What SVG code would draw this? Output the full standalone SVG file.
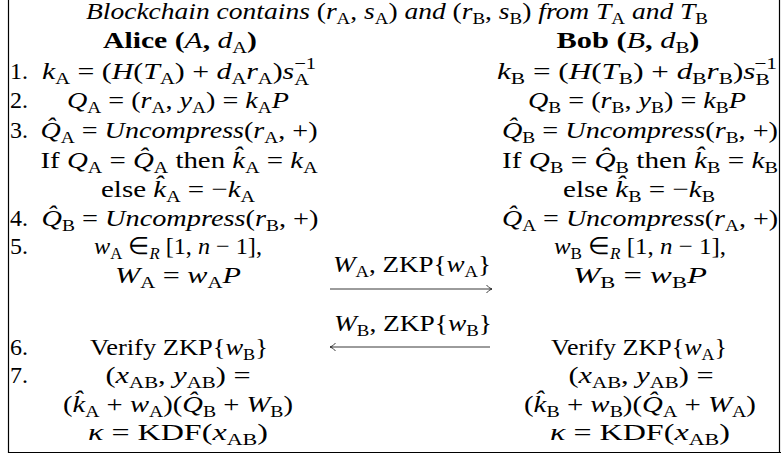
<svg xmlns="http://www.w3.org/2000/svg" width="781" height="458" viewBox="0 0 781 458">
<style>
text{font-family:"Liberation Serif","Times New Roman",serif;font-size:24px;fill:#000}
.m{text-anchor:middle}
.i{font-style:italic}
.b{font-weight:bold}
.n{font-weight:normal}
.s{font-size:16.5px;font-style:normal}
.si{font-size:16.5px;font-style:italic}
.frame{fill:none;stroke:#000;stroke-width:1.2}
.arr{fill:none;stroke:#222;stroke-width:0.9}
</style>
<rect width="781" height="458" fill="#fff"/>
<g id="frame">
<path class="frame" d="M8.5,0 V452.5 H781"/>
<path class="frame" d="M779.5,0 V452.5"/>
</g>
<g id="title">
<text class="m" x="397" y="19" textLength="622" lengthAdjust="spacingAndGlyphs"><tspan class="i">Blockchain contains </tspan>(<tspan class="i">r</tspan><tspan class="s" dy="5">A</tspan><tspan dy="-5">, </tspan><tspan class="i">s</tspan><tspan class="s" dy="5">A</tspan><tspan dy="-5">) </tspan><tspan class="i">and </tspan>(<tspan class="i">r</tspan><tspan class="s" dy="5">B</tspan><tspan dy="-5">, </tspan><tspan class="i">s</tspan><tspan class="s" dy="5">B</tspan><tspan dy="-5">) </tspan><tspan class="i">from T</tspan><tspan class="s" dy="5">A</tspan><tspan class="i" dy="-5">  and T</tspan><tspan class="s" dy="5">B</tspan></text>
</g>
<g id="alice">
<text class="m b" x="180" y="48" textLength="154" lengthAdjust="spacingAndGlyphs">Alice (<tspan class="i n">A</tspan>, <tspan class="i n">d</tspan><tspan class="s n" dy="5">A</tspan><tspan dy="-5">)</tspan></text>
<text x="10" y="79">1.</text>
<text class="m" x="179" y="79" textLength="274" lengthAdjust="spacingAndGlyphs"><tspan class="i">k</tspan><tspan class="s" dy="5">A</tspan><tspan dy="-5"> = (</tspan><tspan class="i">H</tspan>(<tspan class="i">T</tspan><tspan class="s" dy="5">A</tspan><tspan dy="-5">) + </tspan><tspan class="i">d</tspan><tspan class="s" dy="5">A</tspan><tspan class="i" dy="-5">r</tspan><tspan class="s" dy="5">A</tspan><tspan dy="-5">)</tspan><tspan class="i">s</tspan><tspan class="s" dy="6">A</tspan><tspan class="s" dx="-12" dy="-16">−1</tspan></text>
<text x="10" y="108">2.</text>
<text class="m" x="178" y="108" textLength="222" lengthAdjust="spacingAndGlyphs"><tspan class="i">Q</tspan><tspan class="s" dy="5">A</tspan><tspan dy="-5"> = (</tspan><tspan class="i">r</tspan><tspan class="s" dy="5">A</tspan><tspan dy="-5">, </tspan><tspan class="i">y</tspan><tspan class="s" dy="5">A</tspan><tspan dy="-5">) = </tspan><tspan class="i">k</tspan><tspan class="s" dy="5">A</tspan><tspan class="i" dy="-5">P</tspan></text>
<text x="10" y="138">3.</text>
<text class="m" x="179" y="138" textLength="277" lengthAdjust="spacingAndGlyphs"><tspan class="i">Q̂</tspan><tspan class="s" dy="5">A</tspan><tspan dy="-5"> = </tspan><tspan class="i">Uncompress</tspan>(<tspan class="i">r</tspan><tspan class="s" dy="5">A</tspan><tspan dy="-5">, +)</tspan></text>
<text class="m" x="179" y="168" textLength="277" lengthAdjust="spacingAndGlyphs">If <tspan class="i">Q</tspan><tspan class="s" dy="5">A</tspan><tspan dy="-5"> = </tspan><tspan class="i">Q̂</tspan><tspan class="s" dy="5">A</tspan><tspan dy="-5"> then </tspan><tspan class="i">k̂</tspan><tspan class="s" dy="5">A</tspan><tspan dy="-5"> = </tspan><tspan class="i">k</tspan><tspan class="s" dy="5">A</tspan></text>
<text class="m" x="178" y="197" textLength="154" lengthAdjust="spacingAndGlyphs">else <tspan class="i">k̂</tspan><tspan class="s" dy="5">A</tspan><tspan dy="-5"> = −</tspan><tspan class="i">k</tspan><tspan class="s" dy="5">A</tspan></text>
<text x="10" y="226">4.</text>
<text class="m" x="180" y="226" textLength="277" lengthAdjust="spacingAndGlyphs"><tspan class="i">Q̂</tspan><tspan class="s" dy="5">B</tspan><tspan dy="-5"> = </tspan><tspan class="i">Uncompress</tspan>(<tspan class="i">r</tspan><tspan class="s" dy="5">B</tspan><tspan dy="-5">, +)</tspan></text>
<text x="10" y="254">5.</text>
<text class="m" x="178" y="254" textLength="168" lengthAdjust="spacingAndGlyphs"><tspan class="i">w</tspan><tspan class="s" dy="5">A</tspan><tspan dy="-5"> ∈</tspan><tspan class="si" dy="5">R</tspan><tspan dy="-5"> [1, </tspan><tspan class="i">n</tspan> − 1],</text>
<text class="m" x="178" y="283" textLength="126" lengthAdjust="spacingAndGlyphs"><tspan class="i">W</tspan><tspan class="s" dy="5">A</tspan><tspan dy="-5"> = </tspan><tspan class="i">w</tspan><tspan class="s" dy="5">A</tspan><tspan class="i" dy="-5">P</tspan></text>
<text x="10" y="355">6.</text>
<text class="m" x="179" y="355" textLength="178" lengthAdjust="spacingAndGlyphs">Verify ZKP{<tspan class="i">w</tspan><tspan class="s" dy="5">B</tspan><tspan dy="-5">}</tspan></text>
<text x="10" y="383">7.</text>
<text class="m" x="178" y="383" textLength="145" lengthAdjust="spacingAndGlyphs">(<tspan class="i">x</tspan><tspan class="s" dy="5">AB</tspan><tspan dy="-5">, </tspan><tspan class="i">y</tspan><tspan class="s" dy="5">AB</tspan><tspan dy="-5">) =</tspan></text>
<text class="m" x="178" y="412" textLength="230" lengthAdjust="spacingAndGlyphs">(<tspan class="i">k̂</tspan><tspan class="s" dy="5">A</tspan><tspan dy="-5"> + </tspan><tspan class="i">w</tspan><tspan class="s" dy="5">A</tspan><tspan dy="-5">)(</tspan><tspan class="i">Q̂</tspan><tspan class="s" dy="5">B</tspan><tspan dy="-5"> + </tspan><tspan class="i">W</tspan><tspan class="s" dy="5">B</tspan><tspan dy="-5">)</tspan></text>
<text class="m" x="178" y="440" textLength="180" lengthAdjust="spacingAndGlyphs"><tspan class="i">κ</tspan> = KDF(<tspan class="i">x</tspan><tspan class="s" dy="5">AB</tspan><tspan dy="-5">)</tspan></text>
</g>
<g id="bob">
<text class="m b" x="628" y="48" textLength="143" lengthAdjust="spacingAndGlyphs">Bob (<tspan class="i n">B</tspan>, <tspan class="i n">d</tspan><tspan class="s n" dy="5">B</tspan><tspan dy="-5">)</tspan></text>
<text class="m" x="637" y="79" textLength="280" lengthAdjust="spacingAndGlyphs"><tspan class="i">k</tspan><tspan class="s" dy="5">B</tspan><tspan dy="-5"> = (</tspan><tspan class="i">H</tspan>(<tspan class="i">T</tspan><tspan class="s" dy="5">B</tspan><tspan dy="-5">) + </tspan><tspan class="i">d</tspan><tspan class="s" dy="5">B</tspan><tspan class="i" dy="-5">r</tspan><tspan class="s" dy="5">B</tspan><tspan dy="-5">)</tspan><tspan class="i">s</tspan><tspan class="s" dy="6">B</tspan><tspan class="s" dx="-12" dy="-16">−1</tspan></text>
<text class="m" x="637" y="108" textLength="218" lengthAdjust="spacingAndGlyphs"><tspan class="i">Q</tspan><tspan class="s" dy="5">B</tspan><tspan dy="-5"> = (</tspan><tspan class="i">r</tspan><tspan class="s" dy="5">B</tspan><tspan dy="-5">, </tspan><tspan class="i">y</tspan><tspan class="s" dy="5">B</tspan><tspan dy="-5">) = </tspan><tspan class="i">k</tspan><tspan class="s" dy="5">B</tspan><tspan class="i" dy="-5">P</tspan></text>
<text class="m" x="640" y="138" textLength="276" lengthAdjust="spacingAndGlyphs"><tspan class="i">Q̂</tspan><tspan class="s" dy="5">B</tspan><tspan dy="-5"> = </tspan><tspan class="i">Uncompress</tspan>(<tspan class="i">r</tspan><tspan class="s" dy="5">B</tspan><tspan dy="-5">, +)</tspan></text>
<text class="m" x="640" y="168" textLength="276" lengthAdjust="spacingAndGlyphs">If <tspan class="i">Q</tspan><tspan class="s" dy="5">B</tspan><tspan dy="-5"> = </tspan><tspan class="i">Q̂</tspan><tspan class="s" dy="5">B</tspan><tspan dy="-5"> then </tspan><tspan class="i">k̂</tspan><tspan class="s" dy="5">B</tspan><tspan dy="-5"> = </tspan><tspan class="i">k</tspan><tspan class="s" dy="5">B</tspan></text>
<text class="m" x="639" y="197" textLength="152" lengthAdjust="spacingAndGlyphs">else <tspan class="i">k̂</tspan><tspan class="s" dy="5">B</tspan><tspan dy="-5"> = −</tspan><tspan class="i">k</tspan><tspan class="s" dy="5">B</tspan></text>
<text class="m" x="640" y="226" textLength="276" lengthAdjust="spacingAndGlyphs"><tspan class="i">Q̂</tspan><tspan class="s" dy="5">A</tspan><tspan dy="-5"> = </tspan><tspan class="i">Uncompress</tspan>(<tspan class="i">r</tspan><tspan class="s" dy="5">A</tspan><tspan dy="-5">, +)</tspan></text>
<text class="m" x="640" y="254" textLength="172" lengthAdjust="spacingAndGlyphs"><tspan class="i">w</tspan><tspan class="s" dy="5">B</tspan><tspan dy="-5"> ∈</tspan><tspan class="si" dy="5">R</tspan><tspan dy="-5"> [1, </tspan><tspan class="i">n</tspan> − 1],</text>
<text class="m" x="640" y="283" textLength="134" lengthAdjust="spacingAndGlyphs"><tspan class="i">W</tspan><tspan class="s" dy="5">B</tspan><tspan dy="-5"> = </tspan><tspan class="i">w</tspan><tspan class="s" dy="5">B</tspan><tspan class="i" dy="-5">P</tspan></text>
<text class="m" x="639" y="355" textLength="176" lengthAdjust="spacingAndGlyphs">Verify ZKP{<tspan class="i">w</tspan><tspan class="s" dy="5">A</tspan><tspan dy="-5">}</tspan></text>
<text class="m" x="641" y="383" textLength="145" lengthAdjust="spacingAndGlyphs">(<tspan class="i">x</tspan><tspan class="s" dy="5">AB</tspan><tspan dy="-5">, </tspan><tspan class="i">y</tspan><tspan class="s" dy="5">AB</tspan><tspan dy="-5">) =</tspan></text>
<text class="m" x="640" y="412" textLength="232" lengthAdjust="spacingAndGlyphs">(<tspan class="i">k̂</tspan><tspan class="s" dy="5">B</tspan><tspan dy="-5"> + </tspan><tspan class="i">w</tspan><tspan class="s" dy="5">B</tspan><tspan dy="-5">)(</tspan><tspan class="i">Q̂</tspan><tspan class="s" dy="5">A</tspan><tspan dy="-5"> + </tspan><tspan class="i">W</tspan><tspan class="s" dy="5">A</tspan><tspan dy="-5">)</tspan></text>
<text class="m" x="640" y="440" textLength="180" lengthAdjust="spacingAndGlyphs"><tspan class="i">κ</tspan> = KDF(<tspan class="i">x</tspan><tspan class="s" dy="5">AB</tspan><tspan dy="-5">)</tspan></text>
</g>
<g id="connectors">
<text class="m" x="412" y="272" textLength="158" lengthAdjust="spacingAndGlyphs"><tspan class="i">W</tspan><tspan class="s" dy="5">A</tspan><tspan dy="-5">, ZKP{</tspan><tspan class="i">w</tspan><tspan class="s" dy="5">A</tspan><tspan dy="-5">}</tspan></text>
<path class="arr" d="M330,289 H492 M486.5,285 Q489,288.3 492,289 Q489,289.7 486.5,293"/>
<text class="m" x="413" y="331" textLength="158" lengthAdjust="spacingAndGlyphs"><tspan class="i">W</tspan><tspan class="s" dy="5">B</tspan><tspan dy="-5">, ZKP{</tspan><tspan class="i">w</tspan><tspan class="s" dy="5">B</tspan><tspan dy="-5">}</tspan></text>
<path class="arr" d="M490,347 H330 M335.5,343 Q333,346.3 330,347 Q333,347.7 335.5,351"/>
</g>
</svg>
